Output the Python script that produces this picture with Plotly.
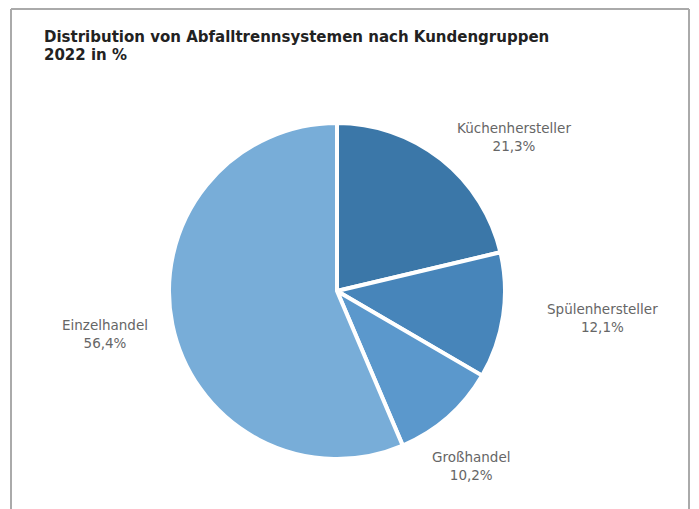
import plotly.graph_objects as go

W, H = 699, 509

# ---- data ----
categories = ["Küchenhersteller", "Spülenhersteller", "Großhandel", "Einzelhandel"]
shares = [21.3, 12.1, 10.2, 56.4]
colors = ["#3b77a8", "#4785ba", "#5b98cc", "#78add8"]
title_lines = ["Distribution von Abfalltrennsystemen nach Kundengruppen", "2022 in %"]

# ---- layout helpers (pixel positions) ----
cx, cy, r = 337, 291, 168
label_pos = [(514, 137), (602, 318), (471, 466), (105, 334)]
title_y = [37, 55]


def px(x):
    return x / W


def py(y):
    return 1 - y / H


fig = go.Figure(
    go.Pie(
        labels=categories,
        values=shares,
        sort=False,
        direction="clockwise",
        rotation=0,
        marker=dict(colors=colors, line=dict(color="white", width=4)),
        textinfo="none",
        hoverinfo="label+percent",
        showlegend=False,
        domain=dict(x=[px(cx - r), px(cx + r)], y=[py(cy + r), py(cy - r)]),
    )
)

annotations = []
for (lx, ly), name, v in zip(label_pos, categories, shares):
    annotations.append(
        dict(
            x=px(lx), y=py(ly), xref="paper", yref="paper",
            text=f"{name}<br>{v:.1f}%".replace(".", ","),
            showarrow=False, xanchor="center", yanchor="middle",
            font=dict(family="DejaVu Sans", size=13.5, color="#666666"),
        )
    )

for line, ty in zip(title_lines, title_y):
    annotations.append(
        dict(
            x=px(42), y=py(ty), xref="paper", yref="paper",
            text=line,
            showarrow=False, xanchor="left", yanchor="middle", align="left",
            font=dict(family="DejaVu Sans", size=15, color="#222222", weight="bold"),
        )
    )

border = "#aaaaaa"
shapes = [
    dict(type="line", xref="paper", yref="paper", x0=px(11), x1=px(11), y0=py(9), y1=-0.05,
         line=dict(color=border, width=2)),
    dict(type="line", xref="paper", yref="paper", x0=px(11), x1=px(689), y0=py(9), y1=py(9),
         line=dict(color=border, width=2)),
    dict(type="line", xref="paper", yref="paper", x0=px(689), x1=px(689), y0=py(9), y1=-0.05,
         line=dict(color=border, width=2)),
]

fig.update_layout(
    width=W, height=H,
    margin=dict(l=0, r=0, t=0, b=0),
    paper_bgcolor="white", plot_bgcolor="white",
    annotations=annotations,
    shapes=shapes,
)

fig.write_html("out.html")
